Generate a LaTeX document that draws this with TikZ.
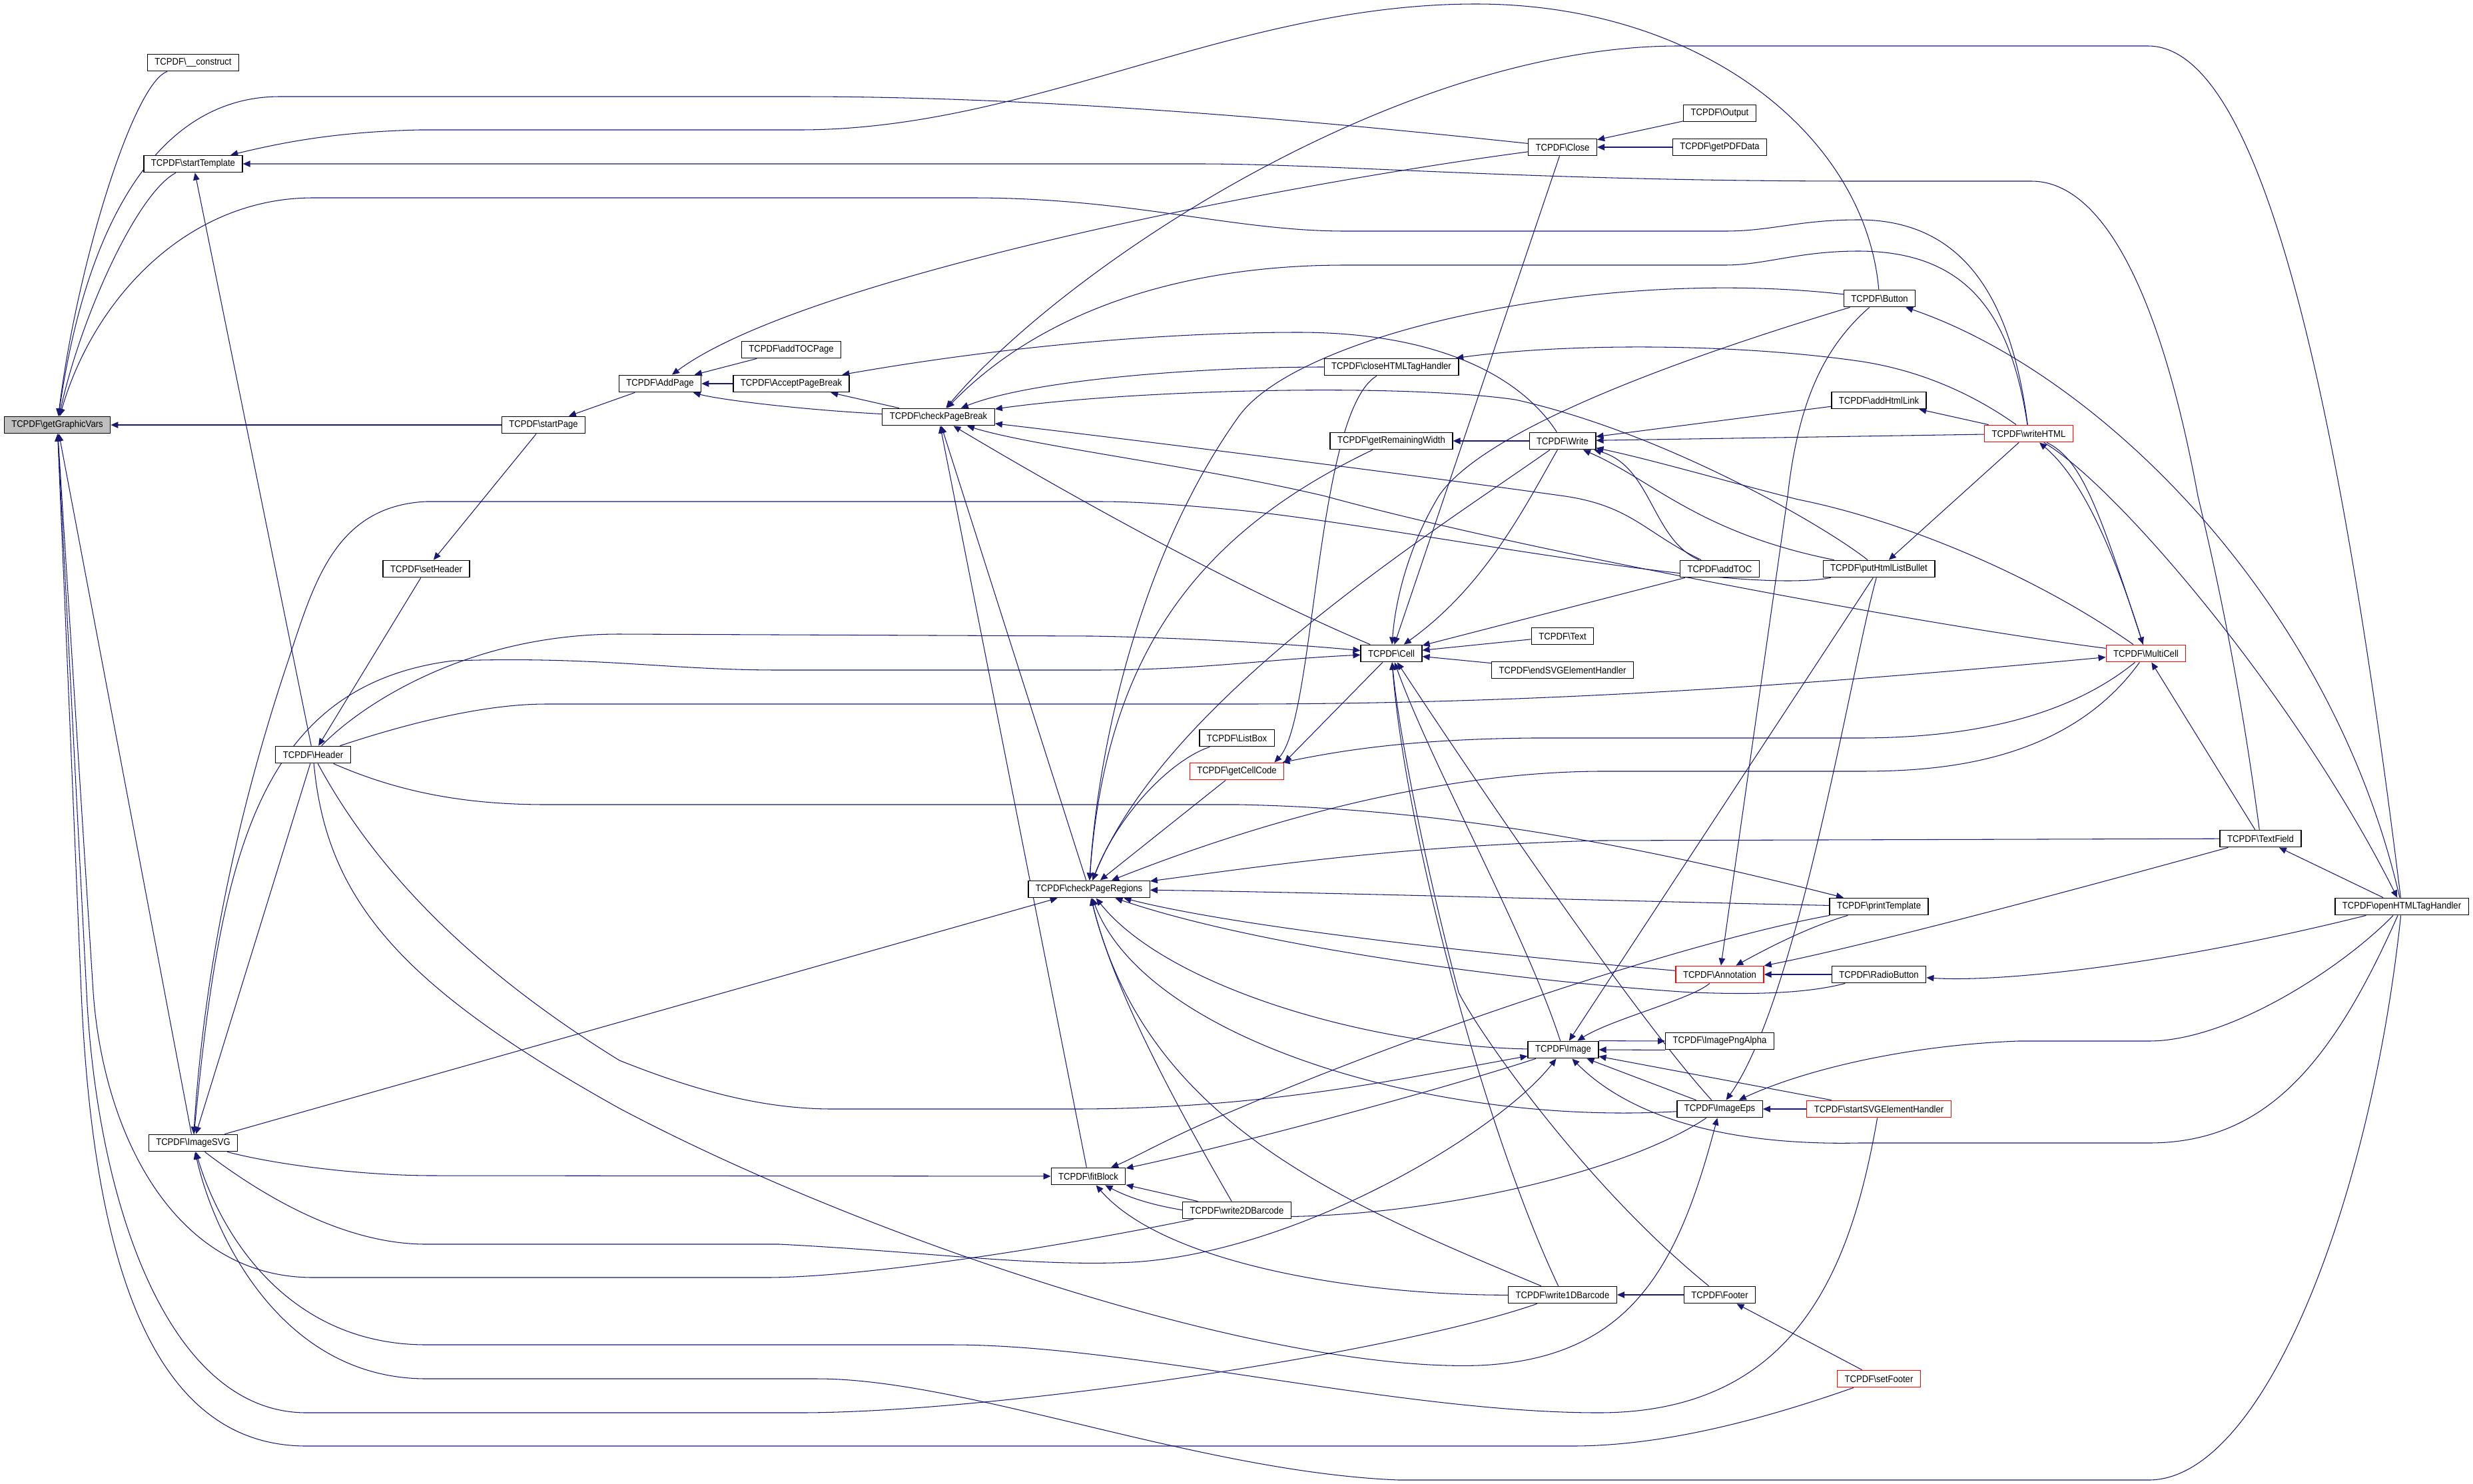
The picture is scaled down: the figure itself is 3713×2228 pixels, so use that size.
\documentclass[tikz,border=0pt]{standalone}
\usepackage{fontspec}
\setmainfont{Liberation Sans}[FakeStretch=0.91]
\usetikzlibrary{arrows.meta,positioning}
\definecolor{edgeblue}{HTML}{191970}
\definecolor{rootgray}{HTML}{BFBFBF}
\pgfdeclarelayer{background}
\pgfsetlayers{background,main}
\newcommand{\tcpdf}[1]{TCPDF\textbackslash #1}
\tikzset{
  fn/.style={draw=black, line width=0.75pt, fill=white, minimum height=0.51cm,
    inner xsep=0.22cm, inner ysep=0pt, font=\fontsize{8.2}{9}\selectfont},
  fnred/.style={fn, draw=red},
  fnroot/.style={fn, fill=rootgray},
  calls/.style={draw=edgeblue, line width=0.6pt, -{Triangle[length=0.22cm,width=0.19cm]}}
}
\begin{document}
\begin{tikzpicture}[x=0.02cm, y=-0.02cm]
\useasboundingbox (0,0) rectangle (3713,2228);
   \node[fnroot] (gv) at (86,638) {\tcpdf{getGraphicVars}};
   \node[fn] (construct) at (290,94) {\tcpdf{\_\_construct}};
   \node[fn] (stTpl) at (290,246) {\tcpdf{startTemplate}};
   \node[fn] (stPage) at (816,638) {\tcpdf{startPage}};
   \node[fn] (setHeader) at (640,854) {\tcpdf{setHeader}};
   \node[fn] (Header) at (470,1133) {\tcpdf{Header}};
   \node[fn] (ImageSVG) at (290,1716) {\tcpdf{ImageSVG}};
   \node[fn] (AddPage) at (991,576) {\tcpdf{AddPage}};
   \node[fn] (addTOCPage) at (1188,525) {\tcpdf{addTOCPage}};
   \node[fn] (AcceptPageBreak) at (1188,576) {\tcpdf{AcceptPageBreak}};
   \node[fn] (checkPageBreak) at (1409,626) {\tcpdf{checkPageBreak}};
   \node[fn] (checkPageRegions) at (1635,1335) {\tcpdf{checkPageRegions}};
   \node[fn] (fitBlock) at (1634,1766) {\tcpdf{fitBlock}};
   \node[fn] (ListBox) at (1857,1108) {\tcpdf{ListBox}};
   \node[fnred] (getCellCode) at (1857,1158) {\tcpdf{getCellCode}};
   \node[fn] (write2DBarcode) at (1857,1817) {\tcpdf{write2DBarcode}};
   \node[fn] (closeHTML) at (2089,551) {\tcpdf{closeHTMLTagHandler}};
   \node[fn] (getRemainingWidth) at (2089,662) {\tcpdf{getRemainingWidth}};
   \node[fn] (Cell) at (2089,981) {\tcpdf{Cell}};
   \node[fn] (Close) at (2346,221) {\tcpdf{Close}};
   \node[fn] (Write) at (2346,662) {\tcpdf{Write}};
   \node[fn] (Text) at (2346,955) {\tcpdf{Text}};
   \node[fn] (endSVG) at (2346,1006) {\tcpdf{endSVGElementHandler}};
   \node[fn] (Image) at (2347,1576) {\tcpdf{Image}};
   \node[fn] (write1DBarcode) at (2346,1944) {\tcpdf{write1DBarcode}};
   \node[fn] (Output) at (2582,170) {\tcpdf{Output}};
   \node[fn] (getPDFData) at (2582,221) {\tcpdf{getPDFData}};
   \node[fn] (addTOC) at (2582,854) {\tcpdf{addTOC}};
   \node[fnred] (Annotation) at (2582,1463) {\tcpdf{Annotation}};
   \node[fn] (ImagePngAlpha) at (2582,1563) {\tcpdf{ImagePngAlpha}};
   \node[fn] (ImageEps) at (2582,1665) {\tcpdf{ImageEps}};
   \node[fn] (Footer) at (2582,1944) {\tcpdf{Footer}};
   \node[fn] (Button) at (2822,448) {\tcpdf{Button}};
   \node[fn] (addHtmlLink) at (2821,601) {\tcpdf{addHtmlLink}};
   \node[fn] (putHtmlListBullet) at (2821,854) {\tcpdf{putHtmlListBullet}};
   \node[fn] (printTemplate) at (2821,1361) {\tcpdf{printTemplate}};
   \node[fn] (RadioButton) at (2821,1463) {\tcpdf{RadioButton}};
   \node[fnred] (startSVG) at (2821,1665) {\tcpdf{startSVGElementHandler}};
   \node[fnred] (setFooter) at (2821,2070) {\tcpdf{setFooter}};
   \node[fnred] (writeHTML) at (3046,651) {\tcpdf{writeHTML}};
   \node[fnred] (MultiCell) at (3222,981) {\tcpdf{MultiCell}};
   \node[fn] (TextField) at (3394,1259) {\tcpdf{TextField}};
   \node[fn] (openHTML) at (3606,1361) {\tcpdf{openHTMLTagHandler}};
\begin{pgfonlayer}{background}
\fill[white] (0,0) rectangle (3713,2228);
% getGraphicVars
\draw[calls] (construct) .. controls (200,125) and (115,400) .. (gv);
\draw[calls] (stTpl) .. controls (205,290) and (120,480) .. (gv);
\draw[calls] (Close) .. controls (1850,168) and (1500,145) .. (1200,145) -- (420,145) .. controls (240,145) and (130,330) .. (gv);
\draw[calls] (writeHTML) .. controls (3020,450) and (2950,330) .. (2790,330) .. controls (2700,330) and (2660,347) .. (2590,347) -- (2020,347) .. controls (1850,347) and (1700,297) .. (1460,297) -- (470,297) .. controls (280,297) and (140,450) .. (gv);
\draw[calls] (stPage) -- (gv);
\draw[calls] (ImageSVG) -- (gv);
\draw[calls] (setFooter) .. controls (2650,2130) and (2500,2171) .. (2360,2171) -- (460,2171) .. controls (230,2171) and (140,1900) .. (122,1490) -- (gv);
\draw[calls] (write1DBarcode) .. controls (2100,2030) and (1500,2121) .. (1200,2121) -- (460,2121) .. controls (250,2121) and (145,1800) .. (130,1490) -- (gv);
\draw[calls] (write2DBarcode) .. controls (1600,1870) and (1300,1918) .. (1150,1918) -- (470,1918) .. controls (260,1918) and (155,1700) .. (140,1490) -- (gv);
% startTemplate
\draw[calls] (Button) .. controls (2800,200) and (2550,6) .. (2216,6) .. controls (1850,6) and (1550,195) .. (1200,195) -- (630,195) .. controls (500,198) and (420,215) .. (stTpl);
\draw[calls] (TextField) .. controls (3360,1000) and (3320,830) .. (3300,745) .. controls (3240,420) and (3150,272) .. (3050,272) -- (2790,272) .. controls (2300,272) and (2000,246) .. (1800,246) -- (stTpl);
\draw[calls] (Header) -- (stTpl);
% pages
\draw[calls] (AddPage) -- (stPage);
\draw[calls] (stPage) -- (setHeader);
\draw[calls] (setHeader) -- (Header);
\draw[calls] (Close) .. controls (1900,280) and (1200,420) .. (AddPage);
\draw[calls] (addTOCPage) -- (AddPage);
\draw[calls] (AcceptPageBreak) -- (AddPage);
\draw[calls] (checkPageBreak) .. controls (1200,615) and (1080,600) .. (AddPage);
\draw[calls] (checkPageBreak) -- (AcceptPageBreak);
\draw[calls] (Write) .. controls (2280,560) and (2150,499) .. (1950,499) .. controls (1700,499) and (1450,530) .. (AcceptPageBreak);
\draw[calls] (Output) -- (Close);
\draw[calls] (getPDFData) -- (Close);
% checkPageBreak
\draw[calls] (openHTML) .. controls (3500,500) and (3380,69) .. (3225,69) -- (2520,69) .. controls (2100,69) and (1600,400) .. (checkPageBreak);
\draw[calls] (writeHTML) .. controls (3020,480) and (2960,377) .. (2790,377) .. controls (2700,377) and (2650,398) .. (2590,398) -- (2020,398) .. controls (1750,398) and (1550,480) .. (checkPageBreak);
\draw[calls] (closeHTML) .. controls (1800,551) and (1550,570) .. (checkPageBreak);
\draw[calls] (putHtmlListBullet) .. controls (2740,790) and (2500,650) .. (2275,600) .. controls (2100,575) and (1700,585) .. (checkPageBreak);
\draw[calls] (MultiCell) .. controls (2900,940) and (2300,830) .. (1990,745) .. controls (1800,700) and (1550,670) .. (checkPageBreak);
\draw[calls] (addTOC) .. controls (2470,800) and (2450,760) .. (2350,745) .. controls (2100,710) and (1700,660) .. (checkPageBreak);
\draw[calls] (checkPageRegions) -- (checkPageBreak);
\draw[calls] (fitBlock) -- (checkPageBreak);
\draw[calls] (Cell) .. controls (1850,880) and (1600,740) .. (checkPageBreak);
% checkPageRegions
\draw[calls] (ImageSVG) -- (checkPageRegions);
\draw[calls] (Button) .. controls (2400,400) and (1950,500) .. (1860,625) .. controls (1720,820) and (1650,1100) .. (checkPageRegions);
\draw[calls] (getRemainingWidth) .. controls (1800,800) and (1660,980) .. (checkPageRegions);
\draw[calls] (Write) .. controls (2150,800) and (1750,1050) .. (checkPageRegions);
\draw[calls] (ListBox) .. controls (1760,1140) and (1680,1220) .. (checkPageRegions);
\draw[calls] (getCellCode) -- (checkPageRegions);
\draw[calls] (MultiCell) .. controls (3100,1150) and (2900,1158) .. (2790,1158) -- (2400,1158) .. controls (2100,1160) and (1800,1270) .. (checkPageRegions);
\draw[calls] (TextField) -- (2400,1262) .. controls (2100,1270) and (1900,1300) .. (checkPageRegions);
\draw[calls] (printTemplate) .. controls (2400,1352) and (2000,1340) .. (checkPageRegions);
\draw[calls] (Annotation) .. controls (2200,1430) and (1850,1390) .. (checkPageRegions);
\draw[calls] (RadioButton) .. controls (2700,1495) and (2600,1492) .. (2540,1490) .. controls (2300,1475) and (1900,1425) .. (checkPageRegions);
\draw[calls] (write2DBarcode) .. controls (1760,1650) and (1670,1480) .. (checkPageRegions);
\draw[calls] (write1DBarcode) .. controls (2000,1800) and (1720,1680) .. (checkPageRegions);
\draw[calls] (ImageEps) .. controls (2150,1690) and (1720,1560) .. (checkPageRegions);
\draw[calls] (Image) .. controls (2050,1570) and (1750,1480) .. (checkPageRegions);
% fitBlock
\draw[calls] (ImageSVG) .. controls (420,1750) and (550,1765) .. (650,1765) -- (fitBlock);
\draw[calls] (printTemplate) .. controls (2550,1410) and (2150,1540) .. (1860,1664) .. controls (1760,1705) and (1700,1740) .. (fitBlock);
\draw[calls] (Image) .. controls (2150,1640) and (1850,1720) .. (fitBlock);
\draw[calls] (ImageEps) .. controls (2380,1800) and (1850,1880) .. (fitBlock);
\draw[calls] (write1DBarcode) .. controls (2050,1945) and (1750,1900) .. (fitBlock);
\draw[calls] (write2DBarcode) -- (fitBlock);
% Cell
\draw[calls] (Header) .. controls (540,1060) and (700,952) .. (930,952) -- (1640,955) .. controls (1800,958) and (1950,968) .. (Cell);
\draw[calls] (ImageSVG) .. controls (330,1300) and (380,1030) .. (680,992) .. controls (900,985) and (1000,1006) .. (1170,1006) -- (1640,1006) .. controls (1800,1006) and (1900,990) .. (Cell);
\draw[calls] (Close) -- (Cell);
\draw[calls] (Button) .. controls (2550,530) and (2230,640) .. (2160,745) .. controls (2115,820) and (2095,900) .. (Cell);
\draw[calls] (Write) .. controls (2290,760) and (2230,880) .. (Cell);
\draw[calls] (addTOC) -- (Cell);
\draw[calls] (Text) -- (Cell);
\draw[calls] (endSVG) -- (Cell);
\draw[calls] (write1DBarcode) .. controls (2230,1700) and (2110,1250) .. (Cell);
\draw[calls] (Footer) .. controls (2380,1780) and (2220,1550) .. (2190,1490) .. controls (2140,1300) and (2100,1100) .. (Cell);
\draw[calls] (Image) .. controls (2290,1400) and (2150,1150) .. (Cell);
\draw[calls] (ImageEps) .. controls (2450,1520) and (2200,1150) .. (Cell);
% getCellCode
\draw[calls] (Cell) -- (getCellCode.north east);
\draw[calls] (closeHTML) .. controls (1975,620) and (1975,1080) .. ([xshift=-0.3cm]getCellCode.north east);
\draw[calls] (MultiCell) .. controls (3100,1080) and (2950,1108) .. (2790,1108) -- (2300,1108) .. controls (2100,1110) and (2000,1130) .. (getCellCode);
% Write
\draw[calls] (writeHTML) -- (Write);
\draw[calls] (addHtmlLink) -- (Write);
\draw[calls] (addTOC) .. controls (2480,810) and (2480,700) .. (Write);
\draw[calls] (putHtmlListBullet) .. controls (2550,800) and (2480,720) .. (Write);
\draw[calls] (MultiCell) .. controls (3050,860) and (2850,780) .. (2700,750) .. controls (2600,725) and (2480,690) .. (Write);
\draw[calls] (Write) -- (getRemainingWidth);
% writeHTML
\draw[calls] (MultiCell) .. controls (3190,880) and (3140,730) .. (writeHTML);
\draw[calls] (writeHTML) .. controls (3125,690) and (3150,760) .. (MultiCell);
\draw[calls] (writeHTML) .. controls (2960,590) and (2880,555) .. (2790,542) .. controls (2600,515) and (2350,515) .. (closeHTML);
\draw[calls] (writeHTML) -- (addHtmlLink);
\draw[calls] (writeHTML) -- (putHtmlListBullet);
\draw[calls] (writeHTML) .. controls (3180,730) and (3450,1050) .. (openHTML);
% Image
\draw[calls] (Header) .. controls (560,1300) and (700,1450) .. (930,1592) .. controls (1050,1640) and (1150,1665) .. (1250,1665) -- (1610,1665) .. controls (1900,1665) and (2100,1620) .. (Image);
\draw[calls] (putHtmlListBullet) -- (Image);
\draw[calls] (openHTML) .. controls (3500,1600) and (3400,1716) .. (3226,1716) -- (2790,1716) .. controls (2600,1720) and (2450,1680) .. (Image);
\draw[calls] (startSVG) -- (Image);
\draw[calls] (ImageSVG) .. controls (400,1800) and (520,1868) .. (640,1868) -- (1170,1868) .. controls (1400,1880) and (1550,1902) .. (1700,1895) .. controls (1950,1880) and (2250,1700) .. (Image);
\draw[calls] (ImageEps) -- (Image);
\draw[calls] (Annotation) .. controls (2540,1500) and (2420,1530) .. (Image);
\draw[calls] (Image.north east) -- (ImagePngAlpha.west);
\draw[calls] (ImagePngAlpha.south west) -- (Image.east);
% ImageEps
\draw[calls] (Header) .. controls (490,1350) and (600,1480) .. (930,1664) .. controls (1300,1860) and (1900,2060) .. (2220,2050) .. controls (2450,2040) and (2520,1900) .. (ImageEps);
\draw[calls] (openHTML) .. controls (3520,1450) and (3350,1563) .. (3226,1563) -- (3030,1563) .. controls (2850,1570) and (2700,1610) .. (ImageEps);
\draw[calls] (putHtmlListBullet) .. controls (2780,1000) and (2700,1500) .. (ImageEps);
\draw[calls] (startSVG) -- (ImageEps);
% ImageSVG
\draw[calls] (Header) -- (ImageSVG);
\draw[calls] (putHtmlListBullet) .. controls (2600,895) and (2100,790) .. (1860,766) .. controls (1750,756) and (1700,753) .. (1650,753) -- (640,753) .. controls (500,760) and (470,880) .. (430,1000) .. controls (380,1150) and (310,1400) .. (ImageSVG);
\draw[calls] (startSVG) .. controls (2780,1900) and (2700,2121) .. (2400,2121) .. controls (2100,2121) and (1700,2019) .. (1430,2019) -- (640,2019) .. controls (430,2019) and (330,1850) .. (ImageSVG);
\draw[calls] (openHTML) .. controls (3560,1800) and (3400,2222) .. (3226,2222) -- (2100,2222) .. controls (1800,2210) and (1450,2070) .. (1227,2070) -- (640,2070) .. controls (420,2070) and (320,1850) .. (ImageSVG);
% Annotation
\draw[calls] (Button) .. controls (2740,520) and (2700,600) .. (2684,745) -- (Annotation);
\draw[calls] (RadioButton) -- (Annotation);
\draw[calls] (TextField) .. controls (3100,1340) and (2800,1420) .. (Annotation);
\draw[calls] (printTemplate) .. controls (2720,1390) and (2660,1420) .. (Annotation);
% MultiCell, printTemplate
\draw[calls] (Header) .. controls (600,1090) and (720,1057) .. (820,1057) -- (1860,1057) .. controls (2300,1057) and (2700,1030) .. (MultiCell);
\draw[calls] (TextField) -- (MultiCell);
\draw[calls] (Header) .. controls (600,1190) and (700,1208) .. (820,1208) -- (1860,1208) .. controls (2200,1215) and (2500,1280) .. (printTemplate);
% openHTMLTagHandler
\draw[calls] (openHTML) .. controls (3500,900) and (3150,560) .. (Button);
\draw[calls] (openHTML) -- (TextField);
\draw[calls] (openHTML) .. controls (3250,1450) and (3000,1475) .. (RadioButton);
% footer
\draw[calls] (setFooter) -- (Footer);
\draw[calls] (Footer) -- (write1DBarcode);
\end{pgfonlayer}
\end{tikzpicture}
\end{document}
